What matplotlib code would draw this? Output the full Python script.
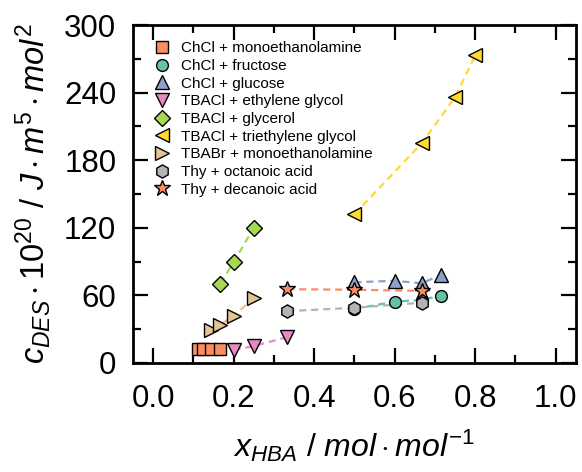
import matplotlib
matplotlib.use("Agg")
import matplotlib.pyplot as plt
from matplotlib.ticker import MultipleLocator

plt.rcParams['font.family'] = ['Liberation Sans', 'DejaVu Sans']
plt.rcParams['mathtext.fontset'] = 'custom'
plt.rcParams['mathtext.rm'] = 'Liberation Sans'
plt.rcParams['mathtext.it'] = 'Liberation Sans:italic'

# data (x_HBA, c_DES * 1e20)
labels = ['ChCl + monoethanolamine', 'ChCl + fructose', 'ChCl + glucose',
          'TBACl + ethylene glycol', 'TBACl + glycerol', 'TBACl + triethylene glycol',
          'TBABr + monoethanolamine', 'Thy + octanoic acid', 'Thy + decanoic acid']

x_chcl_mea = [0.111, 0.125, 0.143, 0.167]
y_chcl_mea = [12.5, 12.5, 12.5, 12.5]
x_chcl_fru = [0.5, 0.6, 0.667, 0.714]
y_chcl_fru = [48, 54.4, 56, 59.7]
x_chcl_glu = [0.5, 0.6, 0.667, 0.714]
y_chcl_glu = [71.6, 73, 70.7, 78]
x_tbacl_eg = [0.2, 0.25, 0.333]
y_tbacl_eg = [11.5, 15, 23]
x_tbacl_gly = [0.167, 0.2, 0.25]
y_tbacl_gly = [70.5, 89.5, 120]
x_tbacl_teg = [0.5, 0.667, 0.75, 0.8]
y_tbacl_teg = [132, 195, 236, 273]
x_tbabr_mea = [0.143, 0.167, 0.2, 0.25]
y_tbabr_mea = [29.5, 34, 42, 57.5]
x_thy_oct = [0.333, 0.5, 0.667]
y_thy_oct = [46, 49, 53.5]
x_thy_dec = [0.333, 0.5, 0.667]
y_thy_dec = [65.5, 65, 64]

xs = [x_chcl_mea, x_chcl_fru, x_chcl_glu, x_tbacl_eg, x_tbacl_gly,
      x_tbacl_teg, x_tbabr_mea, x_thy_oct, x_thy_dec]
ys = [y_chcl_mea, y_chcl_fru, y_chcl_glu, y_tbacl_eg, y_tbacl_gly,
      y_tbacl_teg, y_tbabr_mea, y_thy_oct, y_thy_dec]
markers = ['s', 'o', '^', 'v', 'D', '<', '>', 'h', '*']
sizes = [8, 8.5, 10, 10, 8.5, 10, 10, 9.5, 12]
colors = ['#fc8d62', '#66c2a5', '#8da0cb', '#e78ac3', '#a6d854',
          '#ffd92f', '#e5c494', '#b3b3b3', '#fc8d62']

fig = plt.figure(figsize=(5.82, 4.72), dpi=100)
ax = fig.add_axes([0.2285, 0.231, 0.761, 0.716])

for x, y, c in zip(xs, ys, colors):
    ax.plot(x, y, color=c, lw=1.6, dashes=(3.2, 2.2), zorder=2)
for x, y, m, s, c, lab in zip(xs, ys, markers, sizes, colors, labels):
    ax.plot(x, y, ls='none', marker=m, ms=s, mfc=c, mec='black', mew=1.0,
            label=lab, zorder=3)

ax.set_xlim(-0.05, 1.05)
ax.set_ylim(0, 300)
ax.xaxis.set_major_locator(MultipleLocator(0.2))
ax.xaxis.set_minor_locator(MultipleLocator(0.1))
ax.yaxis.set_major_locator(MultipleLocator(60))
ax.yaxis.set_minor_locator(MultipleLocator(30))
ax.set_xticks([0.0, 0.2, 0.4, 0.6, 0.8, 1.0])
ax.set_xticklabels(['0.0', '0.2', '0.4', '0.6', '0.8', '1.0'])

ax.tick_params(which='both', direction='in', top=True, right=True,
               labelsize=22.5, width=1.6)
ax.tick_params(axis='x', which='major', length=11, pad=15)
ax.tick_params(axis='y', which='major', length=11, pad=12)
ax.tick_params(which='minor', length=6)
for sp in ax.spines.values():
    sp.set_linewidth(2)

ax.set_xlabel(r'$x_{HBA}\ /\ mol\cdot mol^{-1}$', fontsize=23, labelpad=10)
ax.set_ylabel(r'$c_{DES}\cdot\mathrm{10}^{\mathrm{20}}\ /\ J\cdot m^{5}\cdot mol^{2}$',
              fontsize=23.5, labelpad=8)

ax.legend(loc='upper left', bbox_to_anchor=(0.049, 0.952), frameon=False,
          fontsize=11, borderpad=0, borderaxespad=0, labelspacing=0.24,
          handlelength=1.0, handletextpad=0.7)

fig.savefig('out.png', dpi=100)
